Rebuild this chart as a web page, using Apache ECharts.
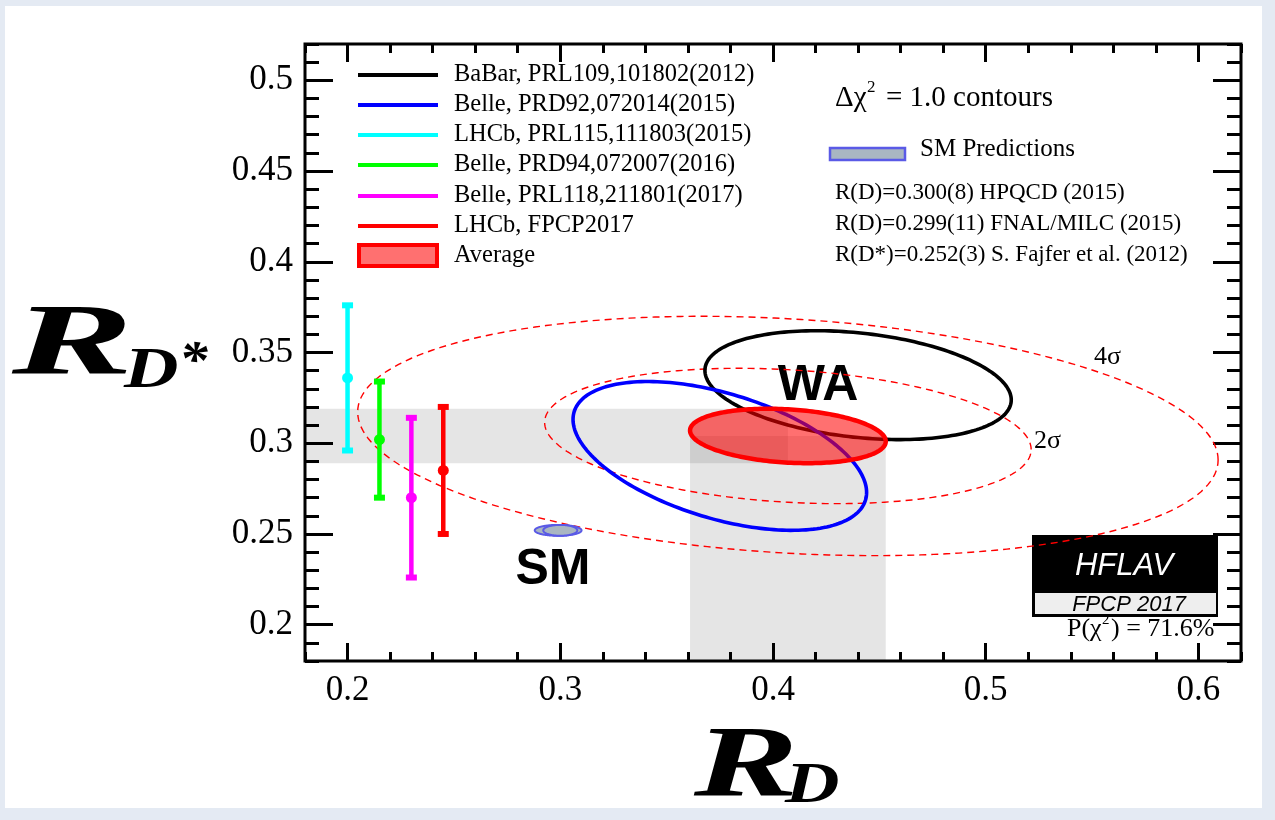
<!DOCTYPE html>
<html>
<head>
<meta charset="utf-8">
<title>R(D) vs R(D*)</title>
<script src="https://cdn.jsdelivr.net/npm/echarts@6/dist/echarts.min.js"></script>
<style>
  html, body { margin: 0; padding: 0; width: 1275px; height: 820px; overflow: hidden; background: #e4eaf3; }
  #panel { position: absolute; left: 5px; top: 6px; width: 1257px; height: 802px; background: #ffffff; }
  #chart { position: absolute; left: 0; top: 0; width: 1275px; height: 820px; }
</style>
</head>
<body>
<div id="panel"></div>
<div id="chart"></div>
<script>
// ---- axis ranges and tick labels ----
const X_MIN = 0.18, X_MAX = 0.62;
const Y_MIN = 0.18, Y_MAX = 0.52;
const xTickValues = [0.2, 0.3, 0.4, 0.5, 0.6];
const yTickValues = [0.2, 0.25, 0.3, 0.35, 0.4, 0.45, 0.5];

// ---- 2D measurements (R(D), R(D*)) with total uncertainties and correlation ----
const ellipseNames  = ['BaBar, PRL109,101802(2012)', 'Belle, PRD92,072014(2015)'];
const ellipseRD     = [0.440, 0.375];
const ellipseRDErr  = [0.072, 0.069];
const ellipseRDs    = [0.332, 0.293];
const ellipseRDsErr = [0.030, 0.041];
const ellipseRho    = [-0.27, -0.49];

// ---- R(D*)-only measurements, shown at fixed R(D) positions ----
const barNames = ['LHCb, PRL115,111803(2015)', 'Belle, PRD94,072007(2016)', 'Belle, PRL118,211801(2017)', 'LHCb, FPCP2017'];
const barRD    = [0.200, 0.215, 0.230, 0.245];
const barRDs   = [0.336, 0.302, 0.270, 0.285];
const barErr   = [0.040, 0.032, 0.044, 0.035];

// ---- world average ----
const avgName = 'Average';
const avgRD = 0.407, avgRDErr = 0.046;
const avgRDs = 0.304, avgRDsErr = 0.015;
const avgRho = -0.20;
const pChi2 = 71.6;

// ---- dashed significance contours around the average ----
const sigmaLabels = ['2σ', '4σ'];
const sigmaDeltaChi2 = [6.18, 19.33];

// ---- SM predictions ----
const smSources  = ['HPQCD (2015)', 'FNAL/MILC (2015)'];
const smRD       = [0.300, 0.299];
const smRDErr    = [0.008, 0.011];
const smRDsSource = 'S. Fajfer et al. (2012)';
const smRDs      = 0.252;
const smRDsErr   = 0.003;

// ---- styles ----
const ellipseColors = ['#000000', '#0000ff'];
const barColors = ['#00ffff', '#00ff00', '#ff00ff', '#ff0000'];
const SERIF = '"Liberation Serif", "Times New Roman", serif';
const SANS = '"Liberation Sans", Arial, sans-serif';

function fmt(v) { return String(parseFloat(Number(v).toFixed(3))); }
function steps(lo, hi, step) {
  const out = [];
  const n = Math.round((hi - lo) / step);
  for (let i = 0; i <= n; i++) out.push(+(lo + i * step).toFixed(4));
  return out;
}
const xMinorValues = steps(X_MIN, X_MAX, 0.02);
const yMinorValues = steps(Y_MIN, Y_MAX, 0.01);

// contour of a correlated 2D Gaussian, scaled by k = sqrt(delta chi2)
function ellipsePoints(api, cx, sx, cy, sy, rho, k) {
  const pts = [];
  const s = Math.sqrt(1 - rho * rho);
  const n = 200;
  for (let i = 0; i < n; i++) {
    const t = 2 * Math.PI * i / n;
    pts.push(api.coord([cx + k * sx * Math.cos(t), cy + k * sy * (rho * Math.cos(t) + s * Math.sin(t))]));
  }
  return pts;
}
function ellipseRenderer(styleFn) {
  return function (params, api) {
    const pts = ellipsePoints(api, api.value(0), api.value(1), api.value(2), api.value(3), api.value(4), api.value(5));
    return { type: 'polygon', shape: { points: pts }, style: styleFn(params.dataIndex) };
  };
}

function xAxisDef(pos, ticks, len, withLabels) {
  return {
    type: 'value', position: pos, min: X_MIN, max: X_MAX,
    axisLine: { show: false }, splitLine: { show: false },
    axisTick: { show: true, inside: true, length: len, customValues: ticks, lineStyle: { color: '#000', width: 3 } },
    axisLabel: withLabels
      ? { show: true, customValues: ticks, formatter: fmt, fontFamily: SERIF, fontSize: 35, color: '#000', margin: 12 }
      : { show: false }
  };
}
function yAxisDef(pos, ticks, len, withLabels) {
  return {
    type: 'value', position: pos, min: Y_MIN, max: Y_MAX,
    axisLine: { show: false }, splitLine: { show: false },
    axisTick: { show: true, inside: true, length: len, customValues: ticks, lineStyle: { color: '#000', width: 3 } },
    axisLabel: withLabels
      ? { show: true, customValues: ticks, formatter: fmt, fontFamily: SERIF, fontSize: 35, color: '#000', margin: 12 }
      : { show: false }
  };
}

const series = [];

// averaged R(D) and R(D*) bands
series.push({
  type: 'custom', z: 1, silent: true,
  data: [
    [X_MIN, avgRD, avgRDs - avgRDsErr, avgRDs + avgRDsErr],
    [avgRD - avgRDErr, avgRD + avgRDErr, Y_MIN, avgRDs]
  ],
  encode: { x: [0, 1], y: [2, 3] },
  renderItem(params, api) {
    const p1 = api.coord([api.value(0), api.value(3)]);
    const p2 = api.coord([api.value(1), api.value(2)]);
    return { type: 'rect', shape: { x: p1[0], y: p1[1], width: p2[0] - p1[0], height: p2[1] - p1[1] },
             style: { fill: 'rgba(0,0,0,0.10)' } };
  }
});

// dashed significance contours
series.push({
  type: 'custom', z: 2, silent: true, clip: true,
  data: sigmaDeltaChi2.map(d => [avgRD, avgRDErr, avgRDs, avgRDsErr, avgRho, Math.sqrt(d)]),
  encode: { x: 0, y: 2 },
  renderItem: ellipseRenderer(() => ({ fill: 'none', stroke: '#ff0000', lineWidth: 1.4, lineDash: [7, 5] }))
});

// BaBar and Belle 2D contours
ellipseNames.forEach((name, i) => {
  series.push({
    type: 'custom', name, z: 3, silent: true, clip: true,
    data: [[ellipseRD[i], ellipseRDErr[i], ellipseRDs[i], ellipseRDsErr[i], ellipseRho[i], 1]],
    encode: { x: 0, y: 2 },
    renderItem: ellipseRenderer(() => ({ fill: 'none', stroke: ellipseColors[i], lineWidth: 3.6 }))
  });
});

// world average
series.push({
  type: 'custom', name: avgName, z: 4, silent: true, clip: true,
  data: [[avgRD, avgRDErr, avgRDs, avgRDsErr, avgRho, 1]],
  encode: { x: 0, y: 2 },
  renderItem: ellipseRenderer(() => ({ fill: 'rgba(255,0,0,0.56)', stroke: '#ff0000', lineWidth: 4.5 }))
});

// R(D*)-only measurements as error bars
series.push({
  type: 'custom', z: 5, silent: true,
  data: barRD.map((x, i) => [x, barRDs[i], barErr[i]]),
  encode: { x: 0, y: 1 },
  renderItem(params, api) {
    const x = api.value(0), y = api.value(1), e = api.value(2);
    const c = api.coord([x, y]), t = api.coord([x, y + e]), b = api.coord([x, y - e]);
    const col = barColors[params.dataIndex];
    return { type: 'group', children: [
      { type: 'line', shape: { x1: c[0], y1: t[1], x2: c[0], y2: b[1] }, style: { stroke: col, lineWidth: 4.5 } },
      { type: 'rect', shape: { x: c[0] - 5.5, y: t[1] - 3, width: 11, height: 6 }, style: { fill: col } },
      { type: 'rect', shape: { x: c[0] - 5.5, y: b[1] - 3, width: 11, height: 6 }, style: { fill: col } },
      { type: 'circle', shape: { cx: c[0], cy: c[1], r: 5.5 }, style: { fill: col } }
    ] };
  }
});

// SM predictions
series.push({
  type: 'custom', z: 5, silent: true,
  data: smRD.map((x, i) => [x, smRDErr[i], smRDs, smRDsErr, 0, 1]).reverse(),
  encode: { x: 0, y: 2 },
  renderItem: ellipseRenderer(() => ({ fill: '#a9b6c2', stroke: '#5a5ae6', lineWidth: 2 }))
});

// ---- legend, annotations, axis titles ----
const graphics = [];
const legendNames = [ellipseNames[0], ellipseNames[1], barNames[0], barNames[1], barNames[2], barNames[3]];
const legendColors = [ellipseColors[0], ellipseColors[1], barColors[0], barColors[1], barColors[2], barColors[3]];
const legendRowY = [75, 105, 135, 165, 196, 226];
legendNames.forEach((name, i) => {
  graphics.push({ type: 'line', shape: { x1: 358, y1: legendRowY[i], x2: 438, y2: legendRowY[i] },
                  style: { stroke: legendColors[i], lineWidth: 4 } });
  graphics.push({ type: 'text', x: 454, y: legendRowY[i],
                  style: { text: name, fontFamily: SERIF, fontSize: 24.5, fill: '#000', verticalAlign: 'middle' } });
});
graphics.push({ type: 'rect', shape: { x: 359, y: 245, width: 78, height: 21 },
                style: { fill: 'rgba(255,0,0,0.56)', stroke: '#ff0000', lineWidth: 4 } });
graphics.push({ type: 'text', x: 454, y: 256,
                style: { text: avgName, fontFamily: SERIF, fontSize: 24.5, fill: '#000', verticalAlign: 'middle' } });

// contour caption
graphics.push({ type: 'text', x: 835, y: 98,
                style: { text: 'Δχ', fontFamily: SERIF, fontSize: 29, fill: '#000', verticalAlign: 'middle' } });
graphics.push({ type: 'text', x: 867, y: 88,
                style: { text: '2', fontFamily: SERIF, fontSize: 17, fill: '#000', verticalAlign: 'middle' } });
graphics.push({ type: 'text', x: 886, y: 98,
                style: { text: '= 1.0 contours', fontFamily: SERIF, fontSize: 29, fill: '#000', verticalAlign: 'middle' } });

// SM legend entry and sources
graphics.push({ type: 'rect', shape: { x: 830, y: 148, width: 75, height: 12 },
                style: { fill: '#a9b6c2', stroke: '#5a5ae6', lineWidth: 2.5 } });
graphics.push({ type: 'text', x: 920, y: 149,
                style: { text: 'SM Predictions', fontFamily: SERIF, fontSize: 25, fill: '#000', verticalAlign: 'middle' } });
const smLines = [
  'R(D)=' + smRD[0].toFixed(3) + '(' + Math.round(smRDErr[0] * 1000) + ') ' + smSources[0],
  'R(D)=' + smRD[1].toFixed(3) + '(' + Math.round(smRDErr[1] * 1000) + ') ' + smSources[1],
  'R(D*)=' + smRDs.toFixed(3) + '(' + Math.round(smRDsErr * 1000) + ') ' + smRDsSource
];
[193, 224, 255].forEach((y, i) => {
  graphics.push({ type: 'text', x: 835, y,
                  style: { text: smLines[i], fontFamily: SERIF, fontSize: 23, fill: '#000', verticalAlign: 'middle' } });
});

// in-plot labels
graphics.push({ type: 'text', x: 818, y: 386,
                style: { text: 'WA', fontFamily: SANS, fontWeight: 'bold', fontSize: 50, fill: '#000', align: 'center', verticalAlign: 'middle' } });
graphics.push({ type: 'text', x: 553, y: 570,
                style: { text: 'SM', fontFamily: SANS, fontWeight: 'bold', fontSize: 50, fill: '#000', align: 'center', verticalAlign: 'middle' } });
graphics.push({ type: 'text', x: 1034, y: 441,
                style: { text: sigmaLabels[0], fontFamily: SERIF, fontSize: 26, fill: '#000', verticalAlign: 'middle' } });
graphics.push({ type: 'text', x: 1094, y: 357,
                style: { text: sigmaLabels[1], fontFamily: SERIF, fontSize: 26, fill: '#000', verticalAlign: 'middle' } });

// HFLAV stamp
graphics.push({ type: 'rect', shape: { x: 1032, y: 535, width: 186, height: 82 }, style: { fill: '#000' } });
graphics.push({ type: 'rect', shape: { x: 1035, y: 593, width: 181, height: 21 }, style: { fill: '#eeeeee' } });
graphics.push({ type: 'text', x: 1124, y: 566,
                style: { text: 'HFLAV', fontFamily: SANS, fontStyle: 'italic', fontSize: 31, fill: '#fff', align: 'center', verticalAlign: 'middle' } });
graphics.push({ type: 'text', x: 1129, y: 605,
                style: { text: 'FPCP 2017', fontFamily: SANS, fontStyle: 'italic', fontSize: 22, fill: '#000', align: 'center', verticalAlign: 'middle' } });
// probability
graphics.push({ type: 'text', x: 1067, y: 629,
                style: { text: 'P(χ', fontFamily: SERIF, fontSize: 26, fill: '#000', verticalAlign: 'middle' } });
graphics.push({ type: 'text', x: 1102, y: 620,
                style: { text: '2', fontFamily: SERIF, fontSize: 15, fill: '#000', verticalAlign: 'middle' } });
graphics.push({ type: 'text', x: 1111, y: 629,
                style: { text: ') = ' + pChi2.toFixed(1) + '%', fontFamily: SERIF, fontSize: 26, fill: '#000', verticalAlign: 'middle' } });

// axis titles (scaled about their own anchor)
const titleStyle = { fontFamily: SERIF, fontStyle: 'italic', fontWeight: 'bold', fill: '#000' };
function titleText(text, x, y, size, sx, align) {
  return { type: 'text', x, y, scaleX: sx, originX: 0, originY: 0,
           style: Object.assign({ text, fontSize: size, verticalAlign: align || 'bottom' }, titleStyle) };
}
graphics.push(titleText('R', 12, 398, 101, 1.8));
graphics.push(titleText('D', 124, 401, 58, 1.3));
graphics.push(titleText('*', 179, 364, 52, 1.1, 'middle'));
graphics.push(titleText('R', 694, 820, 101, 1.55));
graphics.push(titleText('D', 785, 816, 58, 1.3));

const chart = echarts.init(document.getElementById('chart'), null, { renderer: 'canvas' });
chart.setOption({
  animation: false,
  backgroundColor: 'transparent',
  grid: { left: 305, right: 34, top: 44, bottom: 159, show: true, borderColor: '#000', borderWidth: 3, backgroundColor: 'transparent' },
  xAxis: [
    xAxisDef('bottom', xTickValues, 18, true),
    xAxisDef('bottom', xMinorValues, 9, false),
    xAxisDef('top', xTickValues, 18, false),
    xAxisDef('top', xMinorValues, 9, false)
  ],
  yAxis: [
    yAxisDef('left', yTickValues, 28, true),
    yAxisDef('left', yMinorValues, 14, false),
    yAxisDef('right', yTickValues, 28, false),
    yAxisDef('right', yMinorValues, 14, false)
  ],
  series,
  graphic: { elements: graphics }
});
</script>
</body>
</html>
